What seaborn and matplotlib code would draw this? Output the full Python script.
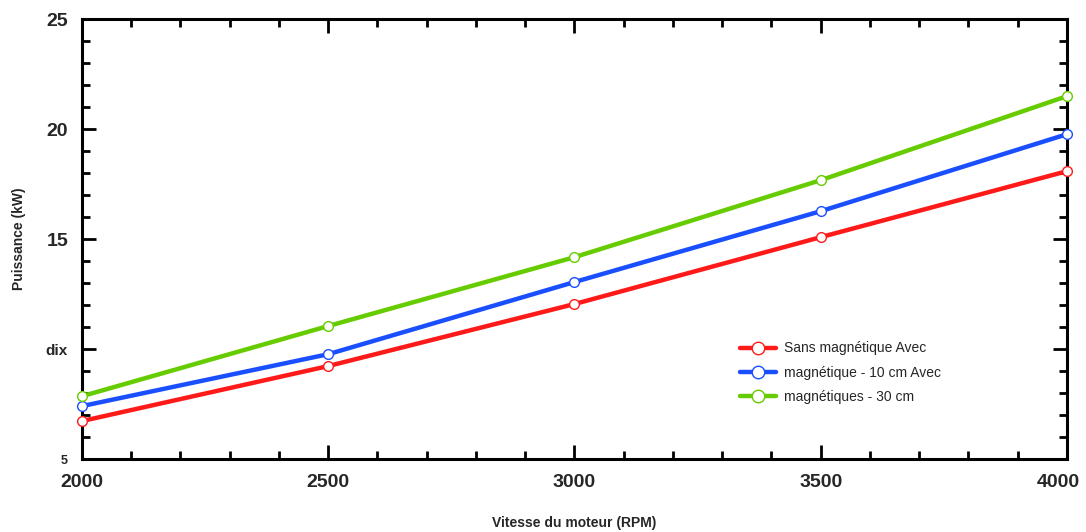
import matplotlib
matplotlib.use("Agg")
import matplotlib.pyplot as plt
from matplotlib.ticker import MultipleLocator
from matplotlib.lines import Line2D
from matplotlib.transforms import ScaledTranslation
import seaborn as sns
import pandas as pd

# values
vitesse = [2000, 2500, 3000, 3500, 4000]
sans_aimant = [6.73, 9.23, 12.05, 15.09, 18.09]
aimant_10cm = [7.41, 9.77, 13.05, 16.27, 19.77]
aimant_30cm = [7.86, 11.05, 14.18, 17.68, 21.5]
noms = ["Sans magnétique Avec", "magnétique - 10 cm Avec", "magnétiques - 30 cm"]
couleurs = ["#ff1a1a", "#1a4fff", "#66cc00"]
y_ticks = [5, 10, 15, 20, 25]
y_labels = ["5", "dix", "15", "20", "25"]

sns.set_style("white")
plt.rcParams["font.family"] = ["Liberation Sans", "DejaVu Sans"]

df = pd.DataFrame({
    "vitesse": vitesse * 3,
    "puissance": sans_aimant + aimant_10cm + aimant_30cm,
    "serie": [noms[0]] * 5 + [noms[1]] * 5 + [noms[2]] * 5,
})

fig = plt.figure(figsize=(10.86, 5.32), dpi=100)
ax = fig.add_axes([0.0755, 0.137, 0.907, 0.827])

sns.lineplot(data=df, x="vitesse", y="puissance", hue="serie", palette=couleurs,
             marker="o", markersize=7, markerfacecolor="white", markeredgewidth=1.0,
             linewidth=3.2, ax=ax, clip_on=False, zorder=3, legend=False)
for line, c in zip(ax.lines, couleurs):
    line.set_markeredgecolor(c)

ax.set_xlim(2000, 4000)
ax.set_ylim(5, 25)
ax.set_xticks(vitesse)
ax.xaxis.set_minor_locator(MultipleLocator(100))
ax.yaxis.set_minor_locator(MultipleLocator(1))
ax.set_yticks(y_ticks)
ax.set_yticklabels(y_labels)

ax.tick_params(which="both", direction="in", left=True, bottom=True, top=True, right=True,
               width=2, color="black")
ax.tick_params(which="major", length=10)
ax.tick_params(which="minor", length=6)
ax.tick_params(axis="x", labelsize=14, pad=10.5)
ax.tick_params(axis="y", labelsize=14, pad=10)
for lab in ax.get_xticklabels() + ax.get_yticklabels():
    lab.set_fontweight("bold")
ylabs = ax.get_yticklabels()
ylabs[0].set_fontsize(9)
ylabs[1].set_fontsize(11)

# last x label sits a little inside the figure edge
xlabs = ax.get_xticklabels()
xlabs[-1].set_transform(xlabs[-1].get_transform() + ScaledTranslation(-6 / 72, 0, fig.dpi_scale_trans))

for sp in ax.spines.values():
    sp.set_linewidth(2.2)
    sp.set_color("black")

ax.set_xlabel("Vitesse du moteur (RPM)", fontsize=10, fontweight="bold", labelpad=18)
ax.set_ylabel("Puissance (kW)", fontsize=10, fontweight="bold", labelpad=14)

handles = [Line2D([], [], color=c, linewidth=3.2, marker="o", markersize=9,
                  markerfacecolor="white", markeredgecolor=c, markeredgewidth=1.0)
           for c in couleurs]
ax.legend(handles, noms, loc="upper left", bbox_to_anchor=(0.655, 0.296), frameon=False,
          fontsize=10, handlelength=2.6, handletextpad=0.6, labelspacing=0.75)

fig.savefig("out.png", dpi=100)
